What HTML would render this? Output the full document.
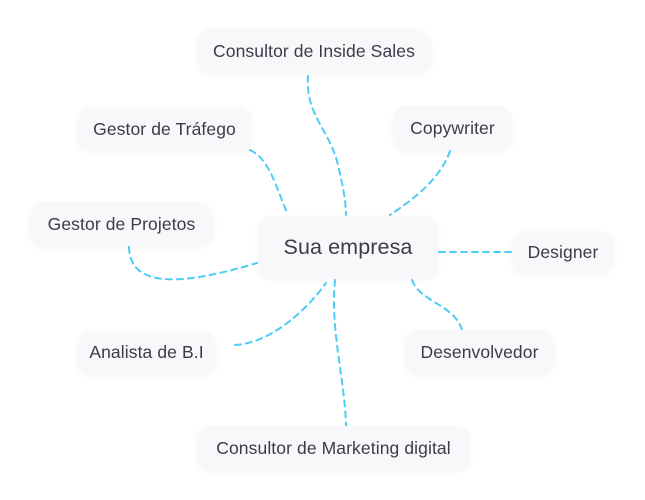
<!DOCTYPE html>
<html><head><meta charset="utf-8"><style>
html,body{margin:0;padding:0;background:#fff;}
#c{position:relative;width:645px;height:500px;overflow:hidden;font-family:"Liberation Sans",sans-serif;}
.n{position:absolute;background:#f8f8fa;border-radius:14px;box-shadow:0 2px 6px rgba(120,120,160,0.07);color:#3b3b4a;font-size:17.5px;display:flex;align-items:center;justify-content:center;white-space:nowrap;letter-spacing:0.1px;}
svg{position:absolute;left:0;top:0;}
</style></head><body><div id="c">
<svg width="645" height="500"><g fill="none" stroke="#4ccdf5" stroke-width="2" stroke-dasharray="6 5" stroke-linecap="round">
<path d="M308 76 C305 115 330 130 338 165 S345 200 346 215"/>
<path d="M250 150 C270 160 275 185 288 215"/>
<path d="M450 151 C440 180 412 200 390 215"/>
<path d="M129 247 C130 295 200 280 257 263"/>
<path d="M439 252 L512 252"/>
<path d="M235 345 C270 343 305 312 326 283"/>
<path d="M412 280 C420 302 455 305 462 330"/>
<path d="M335 280 C330 330 345 380 346 426"/>
</g></svg>
<div class="n" style="left:197px;top:29px;width:234px;height:44px;">Consultor de Inside Sales</div>
<div class="n" style="left:77px;top:107px;width:175px;height:44px;">Gestor de Tráfego</div>
<div class="n" style="left:393px;top:106px;width:119px;height:44px;">Copywriter</div>
<div class="n" style="left:30px;top:202px;width:183px;height:44px;">Gestor de Projetos</div>
<div class="n" style="left:258px;top:216px;width:180px;height:62px;font-size:21.5px;">Sua empresa</div>
<div class="n" style="left:512px;top:231px;width:102px;height:42px;">Designer</div>
<div class="n" style="left:77px;top:331px;width:139px;height:43px;">Analista de B.I</div>
<div class="n" style="left:405px;top:330px;width:149px;height:44px;">Desenvolvedor</div>
<div class="n" style="left:197px;top:426px;width:273px;height:44px;">Consultor de Marketing digital</div>
</div></body></html>
